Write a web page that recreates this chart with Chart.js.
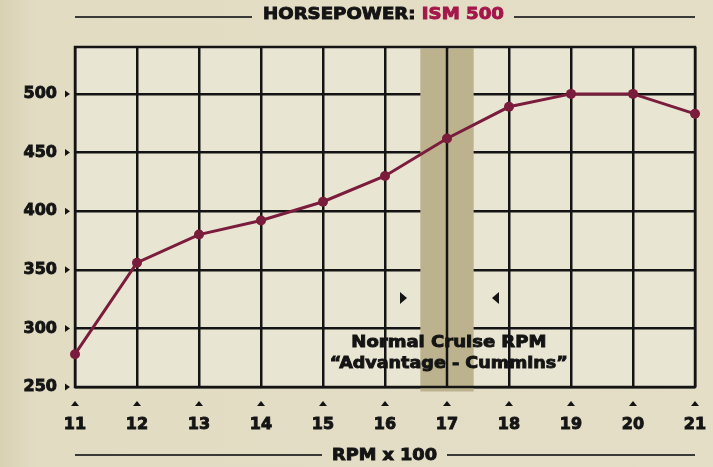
<!DOCTYPE html>
<html><head><meta charset="utf-8">
<script src="https://cdn.jsdelivr.net/npm/chart.js@4"></script>
<style>
html,body{margin:0;padding:0;}
body{width:713px;height:467px;overflow:hidden;background:linear-gradient(90deg,#d8d1b3 0px,#e2dcc3 35px,#e4dec7 100%);}
#wrap{width:713px;height:467px;position:relative}
</style>
</head><body><div id="wrap"><canvas id="c" width="713" height="467"></canvas></div>
<script>
// ---- data ----
const rpm = [11,12,13,14,15,16,17,18,19,20,21];
const horsepower = [278,356,380,392,408,430,462,489,500,500,483];
const yTickValues = [250,300,350,400,450,500];
const xTickValues = [11,12,13,14,15,16,17,18,19,20,21];
const cruiseBand = [16.57, 17.43];
const cruiseCenter = 17;
const cruiseMarkers = [{x:16.29, y:326, dir:'right'}, {x:17.79, y:326, dir:'left'}];
const cruiseText = ['Normal Cruise RPM', '\u201CAdvantage - Cummins\u201D'];
const cruiseTextX = 17.03;
const cruiseTextY = [288, 270];
const titleParts = ['HORSEPOWER: ', 'ISM 500'];
const xTitle = 'RPM x 100';

const FONT = 'bold 16px "DejaVu Sans"';
const INK = '#141414';
const MAROON = '#7a1c3c';

function fitText(ctx, text, cx, cy, width, color) {
  ctx.save();
  ctx.font = FONT;
  const w = ctx.measureText(text).width;
  ctx.translate(cx, cy);
  ctx.scale(width / w, 1);
  ctx.textAlign = 'center';
  ctx.textBaseline = 'middle';
  ctx.fillStyle = color;
  ctx.strokeStyle = color;
  ctx.lineWidth = 0.9;
  ctx.fillText(text, 0, 0);
  ctx.strokeText(text, 0, 0);
  ctx.restore();
}

const decor = {
  id: 'decor',
  beforeDraw(chart) {
    const {ctx, chartArea: a} = chart;
    ctx.save();
    ctx.fillStyle = '#e9e5d3';
    ctx.fillRect(a.left, a.top, a.right - a.left, a.bottom - a.top);
    ctx.restore();
  },
  beforeDatasetsDraw(chart) {
    const {ctx, chartArea: a, scales: {x, y}} = chart;
    ctx.save();
    const x0 = x.getPixelForValue(cruiseBand[0]), x1 = x.getPixelForValue(cruiseBand[1]);
    ctx.fillStyle = '#bcb38e';
    ctx.fillRect(x0, a.top + 1.5, x1 - x0, a.bottom - a.top + 3);
    ctx.strokeStyle = INK;
    ctx.lineWidth = 2.5;
    const xc = x.getPixelForValue(cruiseCenter);
    ctx.beginPath(); ctx.moveTo(xc, a.top); ctx.lineTo(xc, a.bottom); ctx.stroke();
    ctx.strokeRect(a.left, a.top, a.right - a.left, a.bottom - a.top);
    // tick markers
    ctx.fillStyle = INK;
    yTickValues.forEach(v => {
      const py = y.getPixelForValue(v);
      ctx.beginPath(); ctx.moveTo(a.left - 10, py - 3.5); ctx.lineTo(a.left - 5, py); ctx.lineTo(a.left - 10, py + 3.5); ctx.closePath(); ctx.fill();
    });
    xTickValues.forEach(v => {
      const px = x.getPixelForValue(v);
      ctx.beginPath(); ctx.moveTo(px - 4, a.bottom + 19); ctx.lineTo(px, a.bottom + 14); ctx.lineTo(px + 4, a.bottom + 19); ctx.closePath(); ctx.fill();
    });
    ctx.restore();
  },
  afterDatasetsDraw(chart) {
    const {ctx, chartArea: a, scales: {x, y}} = chart;
    ctx.save();
    ctx.fillStyle = INK;
    cruiseMarkers.forEach(m => {
      const px = x.getPixelForValue(m.x), py = y.getPixelForValue(m.y);
      const d = m.dir === 'right' ? 1 : -1;
      ctx.beginPath(); ctx.moveTo(px - 3 * d, py - 6); ctx.lineTo(px + 4 * d, py); ctx.lineTo(px - 3 * d, py + 6); ctx.closePath(); ctx.fill();
    });
    const tx = x.getPixelForValue(cruiseTextX);
    fitText(ctx, cruiseText[0], tx, y.getPixelForValue(cruiseTextY[0]), 195, INK);
    fitText(ctx, cruiseText[1], tx, y.getPixelForValue(cruiseTextY[1]), 238, INK);

    // title
    ctx.font = FONT;
    const w0 = ctx.measureText(titleParts[0]).width, w1 = ctx.measureText(titleParts[1]).width;
    const target = 241, sx = target / (w0 + w1);
    const tLeft = 263, ty = 15;
    ctx.save();
    ctx.translate(tLeft, ty); ctx.scale(sx, 1);
    ctx.textAlign = 'left'; ctx.textBaseline = 'middle'; ctx.lineWidth = 0.9;
    ctx.fillStyle = INK; ctx.strokeStyle = INK;
    ctx.fillText(titleParts[0], 0, 0); ctx.strokeText(titleParts[0], 0, 0);
    ctx.fillStyle = '#a3174b'; ctx.strokeStyle = '#a3174b';
    ctx.fillText(titleParts[1], w0, 0); ctx.strokeText(titleParts[1], w0, 0);
    ctx.restore();
    ctx.strokeStyle = '#3a3a36'; ctx.lineWidth = 2;
    ctx.beginPath(); ctx.moveTo(a.left, 17); ctx.lineTo(252, 17); ctx.moveTo(514, 17); ctx.lineTo(a.right, 17); ctx.stroke();

    // x title
    fitText(ctx, xTitle, 384.5, 456, 105, INK);
    ctx.strokeStyle = '#3a3a36'; ctx.lineWidth = 2;
    ctx.beginPath(); ctx.moveTo(a.left, 455); ctx.lineTo(322, 455); ctx.moveTo(447, 455); ctx.lineTo(a.right, 455); ctx.stroke();
    ctx.restore();
  }
};

const tickFont = {family: 'DejaVu Sans', weight: 'bold', size: 16};
new Chart(document.getElementById('c'), {
  type: 'line',
  data: {datasets: [{
    data: rpm.map((v, i) => ({x: v, y: horsepower[i]})),
    borderColor: MAROON, backgroundColor: MAROON, borderWidth: 3,
    pointRadius: 5, pointHoverRadius: 5, pointBorderWidth: 0, tension: 0, clip: false
  }]},
  options: {
    responsive: false, animation: false, events: [],
    layout: {padding: {top: 47, right: 18, left: 0, bottom: 0}},
    plugins: {legend: {display: false}, title: {display: false}, tooltip: {enabled: false}},
    scales: {
      x: {type: 'linear', min: 11, max: 21,
        afterBuildTicks: s => { s.ticks = xTickValues.map(v => ({value: v})); },
        afterFit: s => { s.height = 80; s.paddingLeft = 0; s.paddingRight = 0; },
        grid: {color: INK, lineWidth: 2.5, drawTicks: false},
        border: {display: false},
        ticks: {padding: 28, color: INK, font: tickFont, maxRotation: 0, autoSkip: false, textStrokeColor: INK, textStrokeWidth: 0.9}},
      y: {type: 'linear', min: 250, max: 540,
        afterBuildTicks: s => { s.ticks = yTickValues.map(v => ({value: v})); },
        afterFit: s => { s.width = 75; s.paddingTop = 0; s.paddingBottom = 0; },
        grid: {color: INK, lineWidth: 2.5, drawTicks: false},
        border: {display: false},
        ticks: {padding: 18, color: INK, font: tickFont, textStrokeColor: INK, textStrokeWidth: 0.9}}
    }
  },
  plugins: [decor]
});
</script>
</body></html>
